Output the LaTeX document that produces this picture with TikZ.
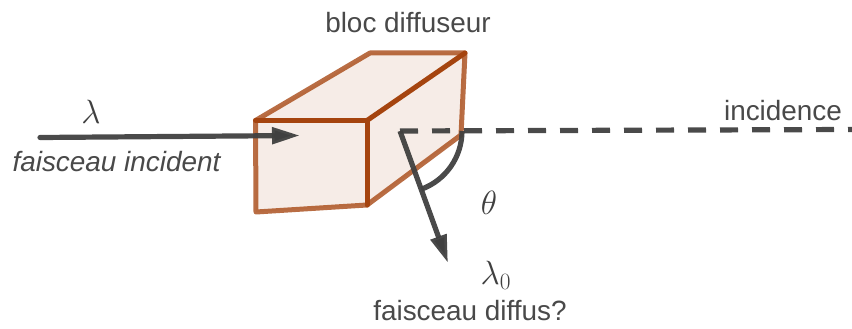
\documentclass[tikz,border=0pt]{standalone}
\usepackage{fontspec}
\setmainfont{Liberation Sans}
\usetikzlibrary{arrows.meta,calc}
\definecolor{rust}{HTML}{A5440F}
\definecolor{ink}{HTML}{404040}
\tikzset{
  x=1pt,y=-1pt,
  face/.style={fill=rust,fill opacity=.1,draw=none},
  softedge/.style={draw=rust,draw opacity=.78,line width=5pt,line cap=round,line join=round},
  hardedge/.style={draw=rust,line width=5pt,line cap=round,line join=round},
  ray/.style={draw=ink,draw opacity=.95,line width=5.2pt},
  rayhead/.style={-{Triangle[length=28pt,width=16pt]}},
  label/.style={text=ink!95,font=\fontsize{27.9}{30}\selectfont,inner sep=0pt,anchor=base},
  glyph/.style={text=ink,inner sep=0pt,anchor=base,font=\fontsize{24}{26}\selectfont}
}
\begin{document}
\begin{tikzpicture}
\useasboundingbox (0,0) rectangle (852,329);
\coordinate (A) at (255.5,120.5);
\coordinate (B) at (367,120.5);
\coordinate (C) at (367,205);
\coordinate (D) at (256,212);
\coordinate (E) at (370,53);
\coordinate (F) at (465,53);
\coordinate (G) at (461,135);
\coordinate (O) at (400,131);
\coordinate (I0) at (40,137.5);
\coordinate (I1) at (300,135.5);
\coordinate (R) at (852,129.5);
\coordinate (T) at (448,263);
\fill[face] (A)--(B)--(C)--(D)--cycle;
\fill[face] (A)--(E)--(F)--(B)--cycle;
\fill[face] (B)--(F)--(G)--(C)--cycle;
\draw[softedge] (A)--(D)--(C)--(G)--(F)--(E)--(A);
\draw[hardedge] (A)--(B)--(C);
\draw[hardedge] (B)--(F);
\draw[ray,rayhead,line cap=round] (I0)--(I1);
\draw[ray,dash pattern=on 18pt off 14pt] (O)--(R);
\draw[ray,rayhead] (O)--(T);
\draw[ray] (462,131) arc[start angle=0,end angle=70,radius=62];
\node[label] (title) at (408,33) {bloc diffuseur};
\node[label] (inc) at (783,121) {incidence};
\node[label,font=\fontsize{27.9}{30}\selectfont\itshape] (fi) at (116.5,171) {faisceau incident};
\node[label] (fd) at (470,320) {faisceau diffus?};
\node[glyph] (lam) at (91,123) {\scalebox{1.35}{$\lambda$}};
\node[glyph] (th) at (489,214) {\scalebox{1.35}{$\theta$}};
\node[glyph] (lam0) at (496,284) {\scalebox{1.35}{$\lambda_0$}};
\end{tikzpicture}
\end{document}
